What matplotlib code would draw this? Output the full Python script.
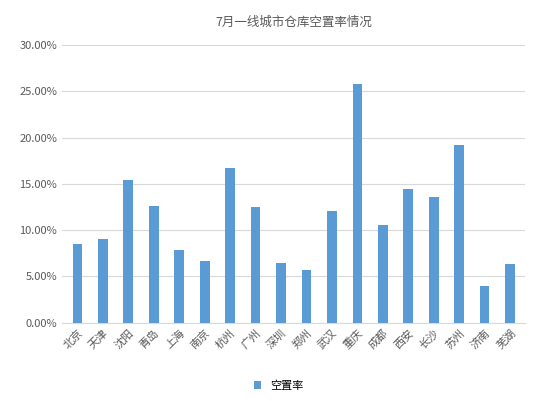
import matplotlib.pyplot as plt
import numpy as np

plt.rcParams['font.family'] = ['Noto Sans CJK SC', 'DejaVu Sans']

cities = ['北京', '天津', '沈阳', '青岛', '上海', '南京', '杭州', '广州', '深圳', '郑州',
          '武汉', '重庆', '成都', '西安', '长沙', '苏州', '济南', '芜湖']
rates = [8.5, 9.0, 15.4, 12.6, 7.9, 6.7, 16.7, 12.5, 6.5, 5.7,
         12.1, 25.8, 10.6, 14.4, 13.6, 19.2, 4.0, 6.3]

fig, ax = plt.subplots(figsize=(5.36, 4.01), dpi=100)
fig.subplots_adjust(left=0.116, right=0.98, top=0.888, bottom=0.195)
x = np.arange(len(cities))
ax.bar(x, rates, width=0.38, color='#5b9bd5', label='空置率', zorder=3)
ax.set_ylim(0, 30)
ax.set_yticks(np.arange(0, 31, 5))
ax.set_yticklabels([f'{v:.2f}%' for v in np.arange(0, 31, 5)], fontsize=8, color='#595959')
ax.set_xticks(x)
ax.set_xticklabels(cities, rotation=45, ha='right', rotation_mode='anchor', fontsize=8, color='#595959')
ax.set_xlim(-0.6, len(cities) - 0.4)
ax.grid(axis='y', color='#d9d9d9', linewidth=0.8, zorder=0)
ax.tick_params(length=0)
for s in ['top', 'right', 'left']:
    ax.spines[s].set_visible(False)
ax.spines['bottom'].set_color('#d9d9d9')
ax.set_title('7月一线城市仓库空置率情况', fontsize=9, color='#595959', pad=14)
fig.legend(loc='lower center', frameon=False, fontsize=8, handlelength=0.7, handleheight=0.7,
           bbox_to_anchor=(0.52, 0.0))
fig.savefig('out.png')
